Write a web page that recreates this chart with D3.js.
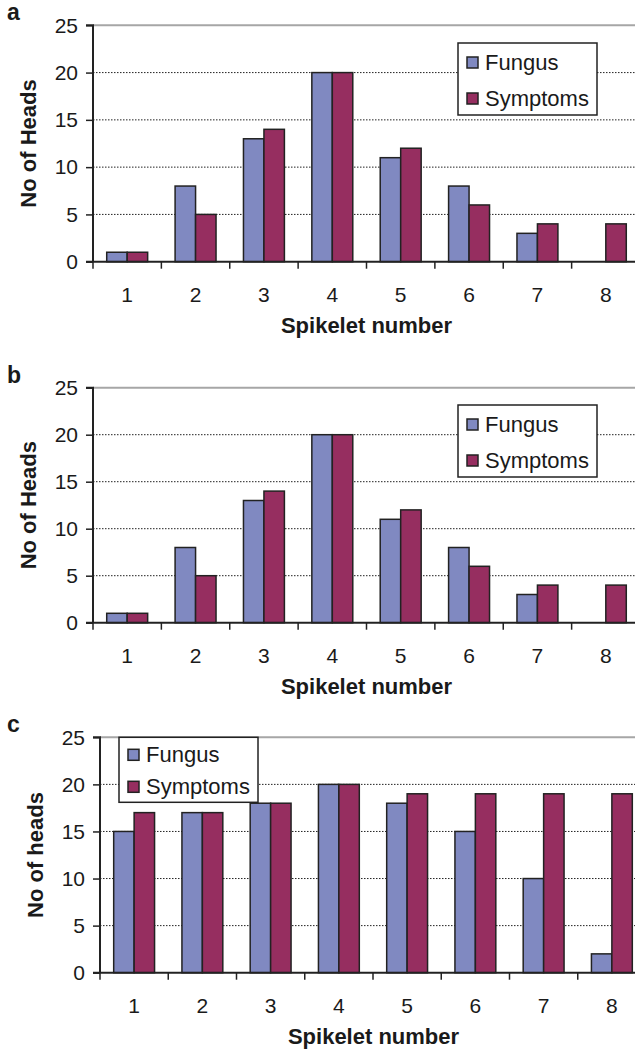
<!DOCTYPE html>
<html>
<head>
<meta charset="utf-8">
<script src="https://cdn.jsdelivr.net/npm/d3@7"></script>
<style>
  body { margin: 0; background: #fff; }
  text { font-family: "Liberation Sans", Arial, sans-serif; fill: #1a1a1a; }
</style>
</head>
<body>
<div id="chart"></div>
<script>
(function() {

  var spikelets = ["1", "2", "3", "4", "5", "6", "7", "8"];
  var seriesNames = ["Fungus", "Symptoms"];
  var yTicks = [0, 5, 10, 15, 20, 25];

  var fungusA = [1, 8, 13, 20, 11, 8, 3, 0];
  var symptomsA = [1, 5, 14, 20, 12, 6, 4, 4];

  var fungusB = [1, 8, 13, 20, 11, 8, 3, 0];
  var symptomsB = [1, 5, 14, 20, 12, 6, 4, 4];

  var fungusC = [15, 17, 18, 20, 18, 15, 10, 2];
  var symptomsC = [17, 17, 18, 20, 19, 19, 19, 19];

  var colors = ["#8089c1", "#962e60"];

  var svg = d3.select("#chart")
    .append("svg")
    .attr("width", 635)
    .attr("height", 1050);

  var panels = [
    { letter: "a", ylab: "No of Heads", fungus: fungusA, symptoms: symptomsA,
      left: 93, right: 640, top: 25.3, bottom: 261.7, legend: [458, 43] },
    { letter: "b", ylab: "No of Heads", fungus: fungusB, symptoms: symptomsB,
      left: 93, right: 640, top: 387.7, bottom: 622.7, legend: [458, 405] },
    { letter: "c", ylab: "No of heads", fungus: fungusC, symptoms: symptomsC,
      left: 100, right: 646, top: 737.3, bottom: 972.7, legend: [119, 737.3] }
  ];

  panels.forEach(function(p) {

    var g = svg.append("g");

    var x = d3.scaleBand().domain(spikelets).range([p.left, p.right]).padding(0);
    var xs = d3.scaleBand().domain(seriesNames).range([0, x.bandwidth()])
      .paddingInner(0).paddingOuter(0.67);
    var y = d3.scaleLinear().domain([0, 25]).range([p.bottom, p.top]);

    // gridlines
    g.selectAll(".grid")
      .data(yTicks.filter(function(t){ return t > 0 && t < 25; }))
      .enter().append("line")
      .attr("x1", p.left).attr("x2", p.right)
      .attr("y1", function(d){ return y(d); })
      .attr("y2", function(d){ return y(d); })
      .attr("stroke", "#222")
      .attr("stroke-width", 1)
      .attr("stroke-dasharray", "1.5,1.5");

    g.append("line")
      .attr("x1", p.left).attr("x2", p.right)
      .attr("y1", y(25)).attr("y2", y(25))
      .attr("stroke", "#a6a6a6")
      .attr("stroke-width", 2);

    // bars
    var rows = spikelets.map(function(s, i) {
      return { cat: s, vals: [p.fungus[i], p.symptoms[i]] };
    });

    g.selectAll(".grp")
      .data(rows)
      .enter().append("g")
      .attr("transform", function(d){ return "translate(" + x(d.cat) + ",0)"; })
      .selectAll("rect")
      .data(function(d){ return d.vals.map(function(v, k){ return { s: seriesNames[k], v: v, k: k }; }); })
      .enter().filter(function(d){ return d.v > 0; })
      .append("rect")
      .attr("x", function(d){ return xs(d.s); })
      .attr("width", xs.bandwidth())
      .attr("y", function(d){ return y(d.v); })
      .attr("height", function(d){ return y(0) - y(d.v); })
      .attr("fill", function(d){ return colors[d.k]; })
      .attr("stroke", "#222")
      .attr("stroke-width", 1.5);

    // y axis
    var yAxis = d3.axisLeft(y).tickValues(yTicks).tickSize(7).tickPadding(8);
    var ya = g.append("g")
      .attr("transform", "translate(" + p.left + ",0)")
      .call(yAxis);
    ya.select(".domain").attr("stroke", "#222").attr("stroke-width", 2)
      .attr("d", "M-7," + y(25) + "H0V" + y(0));
    ya.selectAll(".tick line").attr("stroke", "#222").attr("stroke-width", 1.5);
    ya.selectAll("text").style("font-size", "21px").attr("fill", "#1a1a1a");

    // x axis
    var xa = g.append("g")
      .attr("transform", "translate(0," + p.bottom + ")");
    xa.append("line")
      .attr("x1", p.left - 7).attr("x2", p.right)
      .attr("stroke", "#222").attr("stroke-width", 2);
    xa.selectAll(".xt")
      .data(spikelets)
      .enter().append("line")
      .attr("x1", function(d){ return x(d); })
      .attr("x2", function(d){ return x(d); })
      .attr("y1", 0).attr("y2", 7)
      .attr("stroke", "#222").attr("stroke-width", 1.5);
    xa.selectAll(".xl")
      .data(spikelets)
      .enter().append("text")
      .attr("x", function(d){ return x(d) + x.bandwidth() / 2; })
      .attr("y", 40)
      .attr("text-anchor", "middle")
      .style("font-size", "21px")
      .text(function(d){ return d; });

    g.append("text")
      .attr("x", (p.left + 640) / 2 + (p.left - 93) * 0.5)
      .attr("y", p.bottom + 71)
      .attr("text-anchor", "middle")
      .style("font-size", "22px")
      .style("font-weight", "bold")
      .text("Spikelet number");

    g.append("text")
      .attr("transform", "translate(" + (p.left - 57) + "," + ((p.top + p.bottom) / 2) + ") rotate(-90)")
      .attr("text-anchor", "middle")
      .style("font-size", "22px")
      .style("font-weight", "bold")
      .text(p.ylab);

    g.append("text")
      .attr("x", 7)
      .attr("y", p.top - 5)
      .style("font-size", "23px")
      .style("font-weight", "bold")
      .text(p.letter);

    // legend
    var lg = g.append("g")
      .attr("transform", "translate(" + p.legend[0] + "," + p.legend[1] + ")");
    lg.append("rect")
      .attr("width", 139).attr("height", p.letter === "c" ? 65 : 72)
      .attr("fill", "#fff").attr("stroke", "#222").attr("stroke-width", 1.5);
    var step = p.letter === "c" ? 32 : 36;
    var off = p.letter === "c" ? 12 : 14;
    lg.selectAll(".sw")
      .data(seriesNames)
      .enter().append("rect")
      .attr("x", 9).attr("y", function(d, i){ return off + i * step; })
      .attr("width", 11).attr("height", 11)
      .attr("fill", function(d, i){ return colors[i]; })
      .attr("stroke", "#222").attr("stroke-width", 1.5);
    lg.selectAll(".lt")
      .data(seriesNames)
      .enter().append("text")
      .attr("x", 27).attr("y", function(d, i){ return off + 13 + i * step; })
      .style("font-size", "22px")
      .text(function(d){ return d; });
  });

})();
</script>
</body>
</html>
